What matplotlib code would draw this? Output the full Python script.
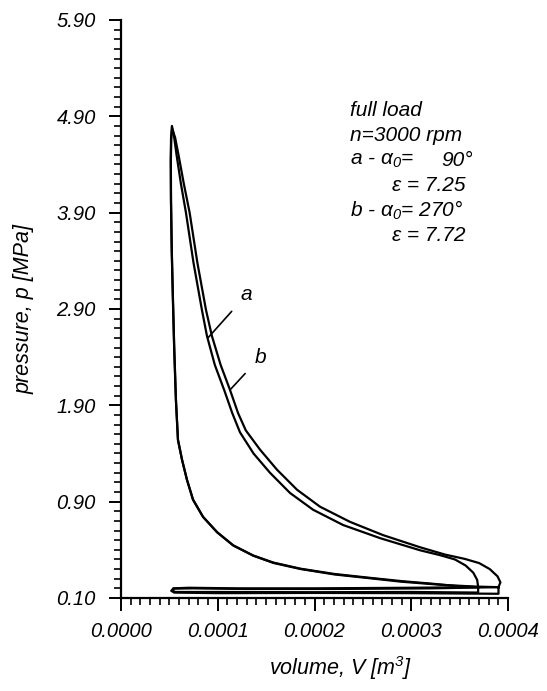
import numpy as np
import matplotlib
matplotlib.use("Agg")
import matplotlib.pyplot as plt
from matplotlib.ticker import FixedLocator

plt.rcParams['font.family'] = ['Liberation Sans', 'DejaVu Sans']
plt.rcParams['font.style'] = 'italic'
plt.rcParams['mathtext.fontset'] = 'custom'
plt.rcParams['mathtext.it'] = 'Liberation Sans:italic'
plt.rcParams['mathtext.rm'] = 'Liberation Sans:italic'

# pressure-volume loops (V in m^3, p in MPa)
# curve a: compression -> combustion -> expansion
vol_a = [3.69e-4, 3.45e-4, 3.225e-4, 2.9e-4, 2.543e-4, 2.2e-4, 1.85e-4, 1.571e-4,
         1.364e-4, 1.158e-4, 9.92e-5, 8.48e-5, 7.44e-5, 6.82e-5, 6.31e-5, 5.89e-5,
         5.68e-5, 5.5e-5, 5.37e-5, 5.25e-5, 5.17e-5, 5.15e-5, 5.18e-5, 5.27e-5,
         5.45e-5, 5.75e-5, 6.2e-5, 6.72e-5, 7.5e-5, 8.37e-5, 8.89e-5, 9.7e-5,
         1.07e-4, 1.15e-4, 1.23e-4, 1.37e-4, 1.54e-4, 1.747e-4, 1.985e-4, 2.295e-4,
         2.677e-4, 3.091e-4, 3.30e-4, 3.45e-4, 3.56e-4, 3.64e-4, 3.68e-4, 3.69e-4]
pres_a = [0.19, 0.20, 0.218, 0.24, 0.27, 0.30, 0.344, 0.395,
          0.454, 0.538, 0.647, 0.774, 0.921, 1.128, 1.336, 1.543,
          1.96, 2.50, 3.00, 3.50, 4.03, 4.45, 4.68, 4.80,
          4.72, 4.50, 4.20, 3.90, 3.38, 2.89, 2.62, 2.32,
          2.05, 1.82, 1.62, 1.40, 1.20, 0.99, 0.833, 0.706,
          0.597, 0.496, 0.455, 0.42, 0.37, 0.31, 0.25, 0.19]

# curve b
vol_b = [3.90e-4, 3.65e-4, 3.30e-4, 2.90e-4, 2.56e-4, 2.21e-4, 1.86e-4, 1.58e-4,
         1.37e-4, 1.163e-4, 9.96e-5, 8.5e-5, 7.46e-5, 6.83e-5, 6.32e-5, 5.9e-5,
         5.69e-5, 5.51e-5, 5.38e-5, 5.26e-5, 5.18e-5, 5.16e-5, 5.2e-5, 5.29e-5,
         5.6e-5, 5.95e-5, 6.5e-5, 7.1e-5, 7.9e-5, 8.79e-5, 9.4e-5, 1.03e-4,
         1.127e-4, 1.21e-4, 1.29e-4, 1.437e-4, 1.612e-4, 1.819e-4, 2.057e-4, 2.367e-4,
         2.708e-4, 3.091e-4, 3.35e-4, 3.55e-4, 3.70e-4, 3.81e-4, 3.89e-4, 3.92e-4,
         3.90e-4]
pres_b = [0.19, 0.195, 0.21, 0.235, 0.265, 0.295, 0.34, 0.39,
          0.45, 0.535, 0.645, 0.772, 0.92, 1.126, 1.334, 1.54,
          1.95, 2.50, 3.00, 3.50, 4.02, 4.43, 4.66, 4.77,
          4.68, 4.50, 4.20, 3.90, 3.38, 2.89, 2.62, 2.32,
          2.06, 1.82, 1.64, 1.44, 1.232, 1.024, 0.858, 0.732,
          0.622, 0.521, 0.46, 0.425, 0.39, 0.34, 0.28, 0.23,
          0.19]

# gas exchange (pumping) loops
pump_vol_a = [3.69e-4, 3.0e-4, 2.0e-4, 1.2e-4, 7.0e-5, 5.4e-5, 5.3e-5,
              5.6e-5, 1.0e-4, 2.0e-4, 3.0e-4, 3.69e-4, 3.69e-4]
pump_pres_a = [0.19, 0.185, 0.18, 0.18, 0.185, 0.18, 0.165,
               0.15, 0.15, 0.148, 0.15, 0.145, 0.19]
pump_vol_b = [3.90e-4, 3.2e-4, 2.2e-4, 1.3e-4, 7.5e-5, 5.5e-5, 5.2e-5,
              5.5e-5, 1.0e-4, 2.0e-4, 3.0e-4, 3.90e-4, 3.90e-4]
pump_pres_b = [0.19, 0.18, 0.175, 0.175, 0.18, 0.178, 0.16,
               0.145, 0.14, 0.142, 0.14, 0.135, 0.19]

x_ticks = [0.0, 0.0001, 0.0002, 0.0003, 0.0004]
x_labels = ['0.0000', '0.0001', '0.0002', '0.0003', '0.0004']
y_ticks = [0.10, 0.90, 1.90, 2.90, 3.90, 4.90, 5.90]
y_labels = ['0.10', '0.90', '1.90', '2.90', '3.90', '4.90', '5.90']


# the bottom interval 0.10-0.90 is drawn as tall as the 1.0 MPa intervals
def fwd(p):
    p = np.asarray(p, dtype=float)
    return np.where(p >= 0.9, p, 0.9 - (0.9 - p) * 1.25)


def inv(t):
    t = np.asarray(t, dtype=float)
    return np.where(t >= 0.9, t, 0.9 - (0.9 - t) / 1.25)


fig = plt.figure(figsize=(5.47, 6.91), dpi=100)
ax = fig.add_axes([0.221, 0.1346, 0.708, 0.8365])
ax.set_yscale('function', functions=(fwd, inv))

lw = 1.6
ax.plot(vol_a, pres_a, color='black', lw=lw, solid_joinstyle='round')
ax.plot(vol_b, pres_b, color='black', lw=lw, solid_joinstyle='round')
ax.plot(pump_vol_a, pump_pres_a, color='black', lw=lw)
ax.plot(pump_vol_b, pump_pres_b, color='black', lw=lw)

ax.set_xlim(0.0, 0.0004)
ax.set_ylim(0.10, 5.90)

ax.xaxis.set_major_locator(FixedLocator(x_ticks))
ax.set_xticklabels(x_labels)
ax.xaxis.set_minor_locator(FixedLocator(np.arange(0, 0.000401, 0.00001)))
ax.yaxis.set_major_locator(FixedLocator(y_ticks))
ax.set_yticklabels(y_labels)
minor_y = list(np.arange(0.10, 0.90, 0.08)) + list(np.arange(0.90, 5.901, 0.1))
ax.yaxis.set_minor_locator(FixedLocator(minor_y))

for side in ['top', 'right']:
    ax.spines[side].set_visible(False)
for side in ['left', 'bottom']:
    ax.spines[side].set_linewidth(1.6)

ax.tick_params(which='major', direction='out', length=9, width=1.4, labelsize=14.5)
ax.tick_params(which='minor', direction='out', length=5, width=1.2)
ax.tick_params(axis='y', which='major', pad=9)
ax.tick_params(axis='x', which='major', pad=8)

ax.set_xlabel('volume, V [m$^3$]', fontsize=15.5)
ax.xaxis.set_label_coords(0.568, -0.097)
ax.set_ylabel('pressure, p [MPa]', fontsize=15.5, labelpad=16)

# curve labels with leader lines
ax.annotate('a', xy=(8.99e-5, 2.60), xytext=(1.30e-4, 3.05), fontsize=15,
            ha='center', va='center',
            arrowprops=dict(arrowstyle='-', color='black', lw=1.2, shrinkA=7, shrinkB=0))
ax.annotate('b', xy=(1.127e-4, 2.06), xytext=(1.44e-4, 2.40), fontsize=15,
            ha='center', va='center',
            arrowprops=dict(arrowstyle='-', color='black', lw=1.2, shrinkA=7, shrinkB=0))

# operating conditions
tx = 0.592
ty = 0.843
dy = 0.0433
fs = 15
ax.text(tx, ty, 'full load', transform=ax.transAxes, fontsize=fs, va='center')
ax.text(tx, ty - dy, 'n=3000 rpm', transform=ax.transAxes, fontsize=fs, va='center')
ax.text(tx, ty - 2 * dy, r'a - $\alpha_0$=', transform=ax.transAxes, fontsize=fs, va='center')
ax.text(0.91, ty - 2 * dy, '90°', transform=ax.transAxes, fontsize=fs, va='center', ha='right')
ax.text(0.70, ty - 3 * dy, 'ε = 7.25', transform=ax.transAxes, fontsize=fs, va='center')
ax.text(tx, ty - 4 * dy, r'b - $\alpha_0$= 270°', transform=ax.transAxes, fontsize=fs, va='center')
ax.text(0.70, ty - 5 * dy, 'ε = 7.72', transform=ax.transAxes, fontsize=fs, va='center')

fig.savefig('out.png', dpi=100)
